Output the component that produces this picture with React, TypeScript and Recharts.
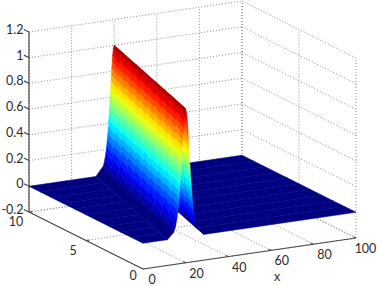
import React from 'react';
import { ScatterChart, Scatter, XAxis, YAxis } from 'recharts';

const xTicks = [0, 20, 40, 60, 80, 100];
const yTicks = [0, 5, 10];
const zTicks = [-0.2, 0, 0.2, 0.4, 0.6, 0.8, 1, 1.2];

// surface rows, far to near, with where the ridge crest sits on each of them
const rowY = [10, 9, 8, 7, 6, 5, 4, 3, 2, 1, 0];
const crestX = [40, 38, 36, 34, 32, 30, 28, 26, 24, 22, 20];

const flankOffsets = [-8.6, -6.48, -5.58, -5.05, -4.66, -4.36, -4.11, -3.89, -3.7, -3.53, -3.375, -3.234, -3.1, -2.979, -2.863, -2.751, -2.645, -2.544, -2.447, -2.352, -2.26, -2.17, -2.083, -1.997, -1.912, -1.827, -1.744, -1.66, -1.577, -1.493, -1.408, -1.321, -1.234, -1.143, -1.048, -0.947, -0.84, -0.72, -0.583, -0.41, 0];
const flankHeights = [0, 0.025, 0.05, 0.075, 0.1, 0.125, 0.15, 0.175, 0.2, 0.225, 0.25, 0.275, 0.3, 0.325, 0.35, 0.375, 0.4, 0.425, 0.45, 0.475, 0.5, 0.525, 0.55, 0.575, 0.6, 0.625, 0.65, 0.675, 0.7, 0.725, 0.75, 0.775, 0.8, 0.825, 0.85, 0.875, 0.9, 0.925, 0.95, 0.975, 1];

const W = 377;
const H = 286;

// the 3d box is an orthographic view, so one linear map is enough
const project = (x: number, y: number, z: number) => ({
  sx: 143 + (x / 100) * 213 - (y / 10) * 114,
  sy: 269 - (x / 100) * 31 - (y / 10) * 57 - ((z + 0.2) / 1.4) * 180,
});

const jet = (v: number) => {
  const ch = (c: number) => Math.round(255 * Math.max(0, Math.min(1, 1.5 - Math.abs(4 * v - c))));
  return `rgb(${ch(3)},${ch(2)},${ch(1)})`;
};

const peak = flankOffsets.length - 1;
const offsets = [...flankOffsets, ...flankOffsets.slice(0, -1).reverse().map((o) => -o)];
const heights = [...flankHeights, ...flankHeights.slice(0, -1).reverse()];
const last = offsets.length - 1;

const surfacePoints: { sx: number; sy: number }[] = [];
const surfaceFills: string[] = [];

const at = (row: number, i: number) => project(crestX[row] + offsets[i], rowY[row], heights[i]);

const addQuad = (fill: string, a: any, b: any, c: any, d: any) => {
  surfacePoints.push(a, b, c, d);
  surfaceFills.push(fill);
};

const navy = jet(0);
for (let r = 0; r < rowY.length - 1; r++) {
  const far = r;
  const near = r + 1;
  // flat part right of the ridge
  addQuad(navy, project(100, rowY[far], 0), at(far, last), at(near, last), project(100, rowY[near], 0));
  // back side, outer edge to crest
  for (let i = last - 2; i >= peak; i -= 2) {
    const fill = jet(heights[i + 2]);
    addQuad(fill, at(far, i + 2 === last ? last : i + 1), at(far, Math.max(i - 1, peak)), at(near, i), at(near, i + 2));
  }
  // front side, crest to outer edge
  for (let i = peak - 2; i >= 0; i -= 2) {
    const fill = jet(heights[i]);
    addQuad(fill, at(far, Math.min(i + 3, peak)), at(far, i === 0 ? 0 : i + 1), at(near, i), at(near, i + 2));
  }
  // flat part left of the ridge
  addQuad(navy, at(far, 0), project(0, rowY[far], 0), project(0, rowY[near], 0), at(near, 0));
}

const gridPoints: { sx: number; sy: number }[] = [];
zTicks.forEach((z) => {
  gridPoints.push(project(0, 10, z), project(100, 10, z));
  gridPoints.push(project(100, 10, z), project(100, 0, z));
});
xTicks.forEach((x) => {
  gridPoints.push(project(x, 10, -0.2), project(x, 10, 1.2));
  gridPoints.push(project(x, 0, -0.2), project(x, 10, -0.2));
});
yTicks.forEach((y) => {
  gridPoints.push(project(100, y, -0.2), project(100, y, 1.2));
  gridPoints.push(project(0, y, -0.2), project(100, y, -0.2));
});

const axisPoints: { sx: number; sy: number }[] = [
  project(0, 10, -0.2), project(0, 10, 1.2),
  project(0, 10, -0.2), project(0, 0, -0.2),
  project(0, 0, -0.2), project(100, 0, -0.2),
];
zTicks.forEach((z) => axisPoints.push(project(0, 10, z), project(0, 10.45, z)));
xTicks.forEach((x) => axisPoints.push(project(x, 0, -0.2), project(x, 0.2, -0.2)));
yTicks.forEach((y) => axisPoints.push(project(0, y, -0.2), project(1.5, y, -0.2)));

const labelPoints: { sx: number; sy: number; text: string; anchor: string }[] = [];
zTicks.forEach((z) => {
  const p = project(0, 10, z);
  labelPoints.push({ sx: p.sx - 5.5, sy: p.sy - 2.5, text: String(z), anchor: 'end' });
});
xTicks.forEach((x) => {
  const p = project(x, 0, -0.2);
  labelPoints.push({ sx: p.sx + (x === 0 ? 9 : x === 100 ? 9.5 : 11), sy: p.sy + 10.5, text: String(x), anchor: 'middle' });
});
yTicks.forEach((y) => {
  const p = project(0, y, -0.2);
  labelPoints.push({ sx: p.sx + (y === 0 ? -10 : -13), sy: p.sy + (y === 0 ? 6 : 9.5), text: String(y), anchor: 'middle' });
});
labelPoints.push({ ...project(43, -3.74, -0.2), text: 'x', anchor: 'middle' });

const noDot = () => <g />;

const drawSurface = (props: any) => (
  <g>
    {surfaceFills.map((fill, i) => (
      <polygon
        key={i}
        points={props.points.slice(i * 4, i * 4 + 4).map((p: any) => `${p.x},${p.y}`).join(' ')}
        fill={fill}
        stroke={fill}
        strokeWidth={0.5}
      />
    ))}
  </g>
);

const drawSegments = (color: string, width: number, dash?: string) => (props: any) => {
  const d: string[] = [];
  for (let i = 0; i + 1 < props.points.length; i += 2) {
    const a = props.points[i];
    const b = props.points[i + 1];
    d.push(`M${a.x},${a.y}L${b.x},${b.y}`);
  }
  return <path d={d.join('')} fill="none" stroke={color} strokeWidth={width} strokeDasharray={dash} />;
};

const drawLabel = (props: any) => (
  <text
    x={props.cx}
    y={props.cy}
    textAnchor={props.payload.anchor}
    dominantBaseline="central"
    fontFamily="Lato"
    fontSize={12.5}
    fill="#2b2b2b"
  >
    {props.payload.text}
  </text>
);

export default function App() {
  return (
    <div style={{ position: 'absolute', left: 0, top: 0, width: W, height: H, background: '#fff' }}>
      <ScatterChart width={W} height={H} margin={{ top: 0, right: 0, bottom: 0, left: 0 }}>
        <XAxis type="number" dataKey="sx" domain={[0, W]} hide />
        <YAxis type="number" dataKey="sy" domain={[0, H]} reversed hide />
        <Scatter data={gridPoints} shape={noDot} line={drawSegments('#8c8c8c', 1, '1 2')} isAnimationActive={false} />
        <Scatter data={axisPoints} shape={noDot} line={drawSegments('#4a4a4a', 1.2)} isAnimationActive={false} />
        <Scatter data={surfacePoints} shape={noDot} line={drawSurface} isAnimationActive={false} />
        <Scatter data={labelPoints} shape={drawLabel} isAnimationActive={false} />
      </ScatterChart>
    </div>
  );
}
